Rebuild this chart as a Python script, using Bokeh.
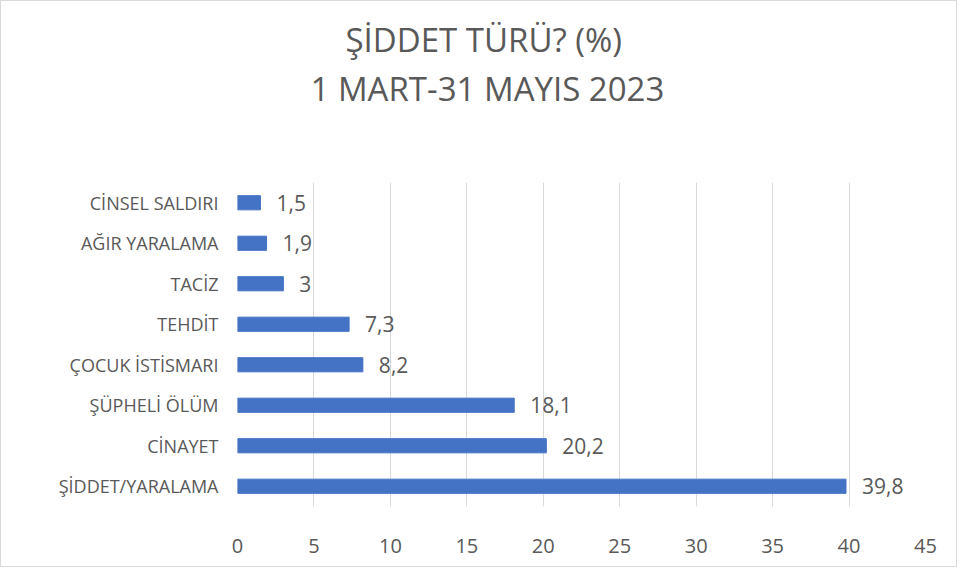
from bokeh.plotting import figure
from bokeh.models import Title, FixedTicker, Range1d
from bokeh.core.properties import value
from bokeh.embed import file_html
from bokeh.resources import INLINE

categories = ["ŞİDDET/YARALAMA", "CİNAYET", "ŞÜPHELİ ÖLÜM", "ÇOCUK İSTİSMARI",
              "TEHDİT", "TACİZ", "AĞIR YARALAMA", "CİNSEL SALDIRI"]
values = [39.8, 20.2, 18.1, 8.2, 7.3, 3, 1.9, 1.5]
labels = ["39,8", "20,2", "18,1", "8,2", "7,3", "3", "1,9", "1,5"]
x_ticks = [0, 5, 10, 15, 20, 25, 30, 35, 40, 45]
title_line1 = "ŞİDDET TÜRÜ? (%)"
title_line2 = "1 MART-31 MAYIS 2023"

FONT = "Open Sans"
GRAY = "#595959"

p = figure(width=957, height=567, y_range=categories, x_range=Range1d(0, 45),
           output_backend="svg", toolbar_location=None,
           min_border_left=236, min_border_right=33, min_border_bottom=62,
           min_border_top=181)
p.title.visible = False

spacer = Title(text=" ", text_font_size="2px", standoff=66, text_color="white")
t2 = Title(text=title_line2, align="left", text_font=FONT, text_font_size="33px",
           text_color=GRAY, text_font_style="normal", standoff=4, offset=73)
t1 = Title(text=title_line1, align="left", text_font=FONT, text_font_size="33px",
           text_color=GRAY, text_font_style="normal", standoff=0, offset=108)
p.add_layout(spacer, "above")
p.add_layout(t2, "above")
p.add_layout(t1, "above")

p.hbar(y=categories, right=values, left=0, height=0.35, color="#4472C4")
p.text(x=values, y=categories, text=labels, x_offset=16, text_baseline="middle",
       text_align="left", text_font=value(FONT), text_font_size="21px", text_color=GRAY)

p.outline_line_color = None
p.background_fill_color = "white"
p.border_fill_color = "white"

p.xaxis.ticker = FixedTicker(ticks=x_ticks)
p.xaxis.axis_line_color = None
p.xaxis.major_tick_line_color = None
p.xaxis.minor_tick_line_color = None
p.xaxis.major_label_text_font = FONT
p.xaxis.major_label_text_font_size = "20px"
p.xaxis.major_label_text_color = GRAY
p.xaxis.major_label_standoff = 26

p.yaxis.axis_line_color = None
p.yaxis.major_tick_line_color = None
p.yaxis.minor_tick_line_color = None
p.yaxis.major_label_text_font = FONT
p.yaxis.major_label_text_font_size = "18px"
p.yaxis.major_label_text_color = GRAY
p.yaxis.major_label_standoff = 13

p.ygrid.grid_line_color = None
p.xgrid.grid_line_color = "#D9D9D9"
p.xgrid.grid_line_width = 1
p.y_range.range_padding = 0

p.styles = {"border": "1px solid #D9D9D9"}

open("out.html", "w").write(file_html(p, INLINE))
